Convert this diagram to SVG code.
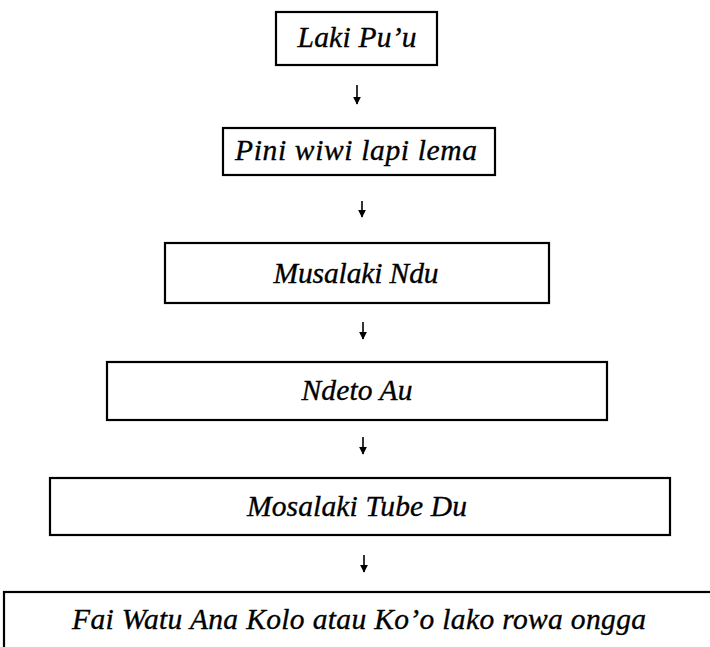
<svg xmlns="http://www.w3.org/2000/svg" width="710" height="647" viewBox="0 0 710 647">
<defs>
<style>
.box{fill:#fff;stroke:#000;stroke-width:2.2}
.lbl{font-family:"Liberation Serif","Times New Roman",serif;font-style:italic;font-size:29.5px;fill:#000;stroke:#000;stroke-width:0.35;text-anchor:middle}
.arr{stroke:#000;stroke-width:1.6;fill:none;marker-end:url(#ah)}
</style>
<marker id="ah" viewBox="0 0 10 10" refX="9" refY="5" markerWidth="5" markerHeight="5" orient="auto" markerUnits="strokeWidth">
<path d="M0,0 L10,5 L0,10 Z" fill="#000"/>
</marker>
</defs>
<rect width="710" height="647" fill="#fff"/>
<g id="n1"><rect class="box" x="276" y="12" width="161" height="53"/><text class="lbl" x="357" y="47" textLength="119">Laki Pu’u</text></g>
<g id="n2"><rect class="box" x="223" y="128" width="272" height="47"/><text class="lbl" x="356" y="160" textLength="242">Pini wiwi lapi lema</text></g>
<g id="n3"><rect class="box" x="165" y="243" width="384" height="60"/><text class="lbl" x="356" y="283" textLength="165">Musalaki Ndu</text></g>
<g id="n4"><rect class="box" x="107" y="362" width="500" height="58"/><text class="lbl" x="357" y="400" textLength="111">Ndeto Au</text></g>
<g id="n5"><rect class="box" x="50" y="478" width="620" height="57"/><text class="lbl" x="357" y="516" textLength="220">Mosalaki Tube Du</text></g>
<g id="n6"><rect class="box" x="4" y="592" width="730" height="70"/><text class="lbl" x="359" y="629" textLength="574">Fai Watu Ana Kolo atau Ko’o lako rowa ongga</text></g>
<g id="connectors">
<line class="arr" x1="357" y1="85" x2="357" y2="104"/>
<line class="arr" x1="362" y1="201" x2="362" y2="217"/>
<line class="arr" x1="363" y1="322" x2="363" y2="339"/>
<line class="arr" x1="363" y1="437" x2="363" y2="454"/>
<line class="arr" x1="364" y1="555" x2="364" y2="572"/>
</g>
</svg>
